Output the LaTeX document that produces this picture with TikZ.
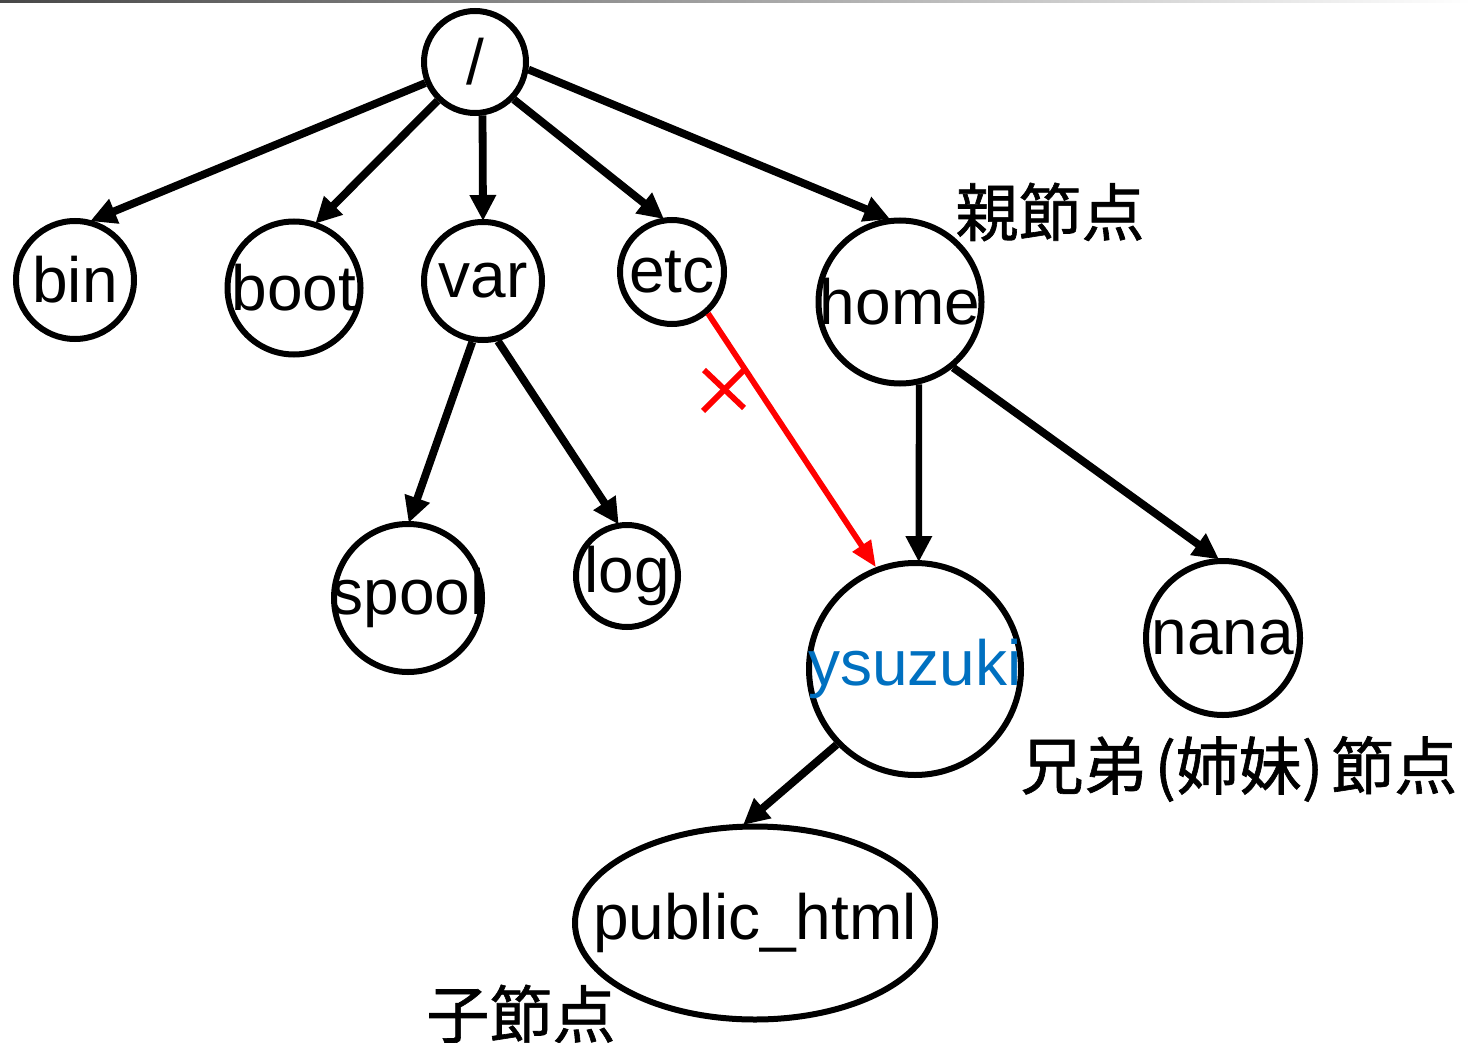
\documentclass[tikz,border=0pt]{standalone}
\usepackage{fontspec}
\setmainfont{Liberation Sans}
\newfontfamily\jpfont[FakeBold=1]{Noto Sans CJK JP}
\usetikzlibrary{arrows.meta,shapes.geometric}
\definecolor{userblue}{RGB}{0,112,192}
\definecolor{cutred}{RGB}{255,0,0}
\begin{document}
\begin{tikzpicture}[x=0.5pt,y=-0.5pt,
  dirnode/.style={circle,draw=black,line width=3pt,inner sep=0pt,minimum size=#1},
  dirname/.style={font=\fontsize{32}{36}\selectfont,inner sep=0pt},
  link/.style={line width=3.9pt,-{Triangle[length=13pt,width=12.5pt]},shorten >=-1pt},
  badlink/.style={draw=cutred,line width=2.9pt,-{Triangle[length=13pt,width=10.5pt]}},
  cutline/.style={draw=cutred,line width=2.9pt},
  jp/.style={font=\jpfont\fontsize{31.5}{36}\selectfont,inner sep=0pt}]

\useasboundingbox (0,0) rectangle (1471,1043);
\shade[left color=black!72,right color=white] (0,0) rectangle (1471,2.5);

% directory nodes
\node[dirnode=51pt] (root) at (475,62) {};
\node[dirname] (root-t) at (root) {/};
\node[dirnode=59pt] (bin) at (75,280) {};
\node[dirname] (bin-t) at (bin) {bin};
\node[dirnode=66.5pt] (boot) at (294,288) {};
\node[dirname] (boot-t) at (boot) {boot};
\node[dirnode=59pt] (var) at (483,281) {};
\node[dirname] (var-t) at (var) {var};
\node[dirnode=52pt] (etc) at (672,272) {};
\node[dirname] (etc-t) at (etc) {etc};
\node[dirnode=81.5pt] (home) at (900,302) {};
\node[dirname] (home-t) at (home) {home};
\node[dirnode=74pt] (spool) at (408,598) {};
\node[dirname] (spool-t) at (spool) {spool};
\node[dirnode=51pt] (log) at (627,576) {};
\node[dirname] (log-t) at (log) {log};
\node[dirnode=106pt] (ysuzuki) at (915,669) {};
\node[dirname,text=userblue] (ysuzuki-t) at (ysuzuki) {ysuzuki};
\node[dirnode=77pt] (nana) at (1223,638) {};
\node[dirname] (nana-t) at (nana) {nana};
\node[ellipse,draw=black,line width=3pt,inner sep=0pt,
      minimum width=180pt,minimum height=96.5pt] (pub) at (755,923) {};
\node[dirname] (pub-t) at (pub) {public\_html};

% relation labels
\node[jp] (parent) at (1050,212) {親節点};
\node[jp] (sibling) at (1239,769) {兄弟\kern4pt(姉妹)\kern4pt節点};
\node[jp] (child) at (521,1014) {子節点};

% tree edges
\draw[link] (root.203) -- (bin.74);
\draw[link] (root.226) -- (boot.71);
\draw[link] (root.278) -- (var.90);
\draw[link] (root.316) -- (etc.100);
\draw[link] (root.352) -- (home.98);
\draw[link] (var.260) -- (spool.89);
\draw[link] (var.284) -- (log.100);
\draw[link,line width=3.2pt] (home.283) -- (ysuzuki.88);
\draw[link] (home.309) -- (nana.94);
\draw[link] (ysuzuki.224) -- (pub.96);

% forbidden link, crossed out
\draw[badlink] (etc.311) -- (ysuzuki.111);
\coordinate (cut) at (724,390);
\draw[cutline] ([shift={(-20,-20)}]cut) -- ([shift={(20,18)}]cut);
\draw[cutline] ([shift={(-21,21)}]cut) -- ([shift={(21,-21)}]cut);
\end{tikzpicture}
\end{document}
